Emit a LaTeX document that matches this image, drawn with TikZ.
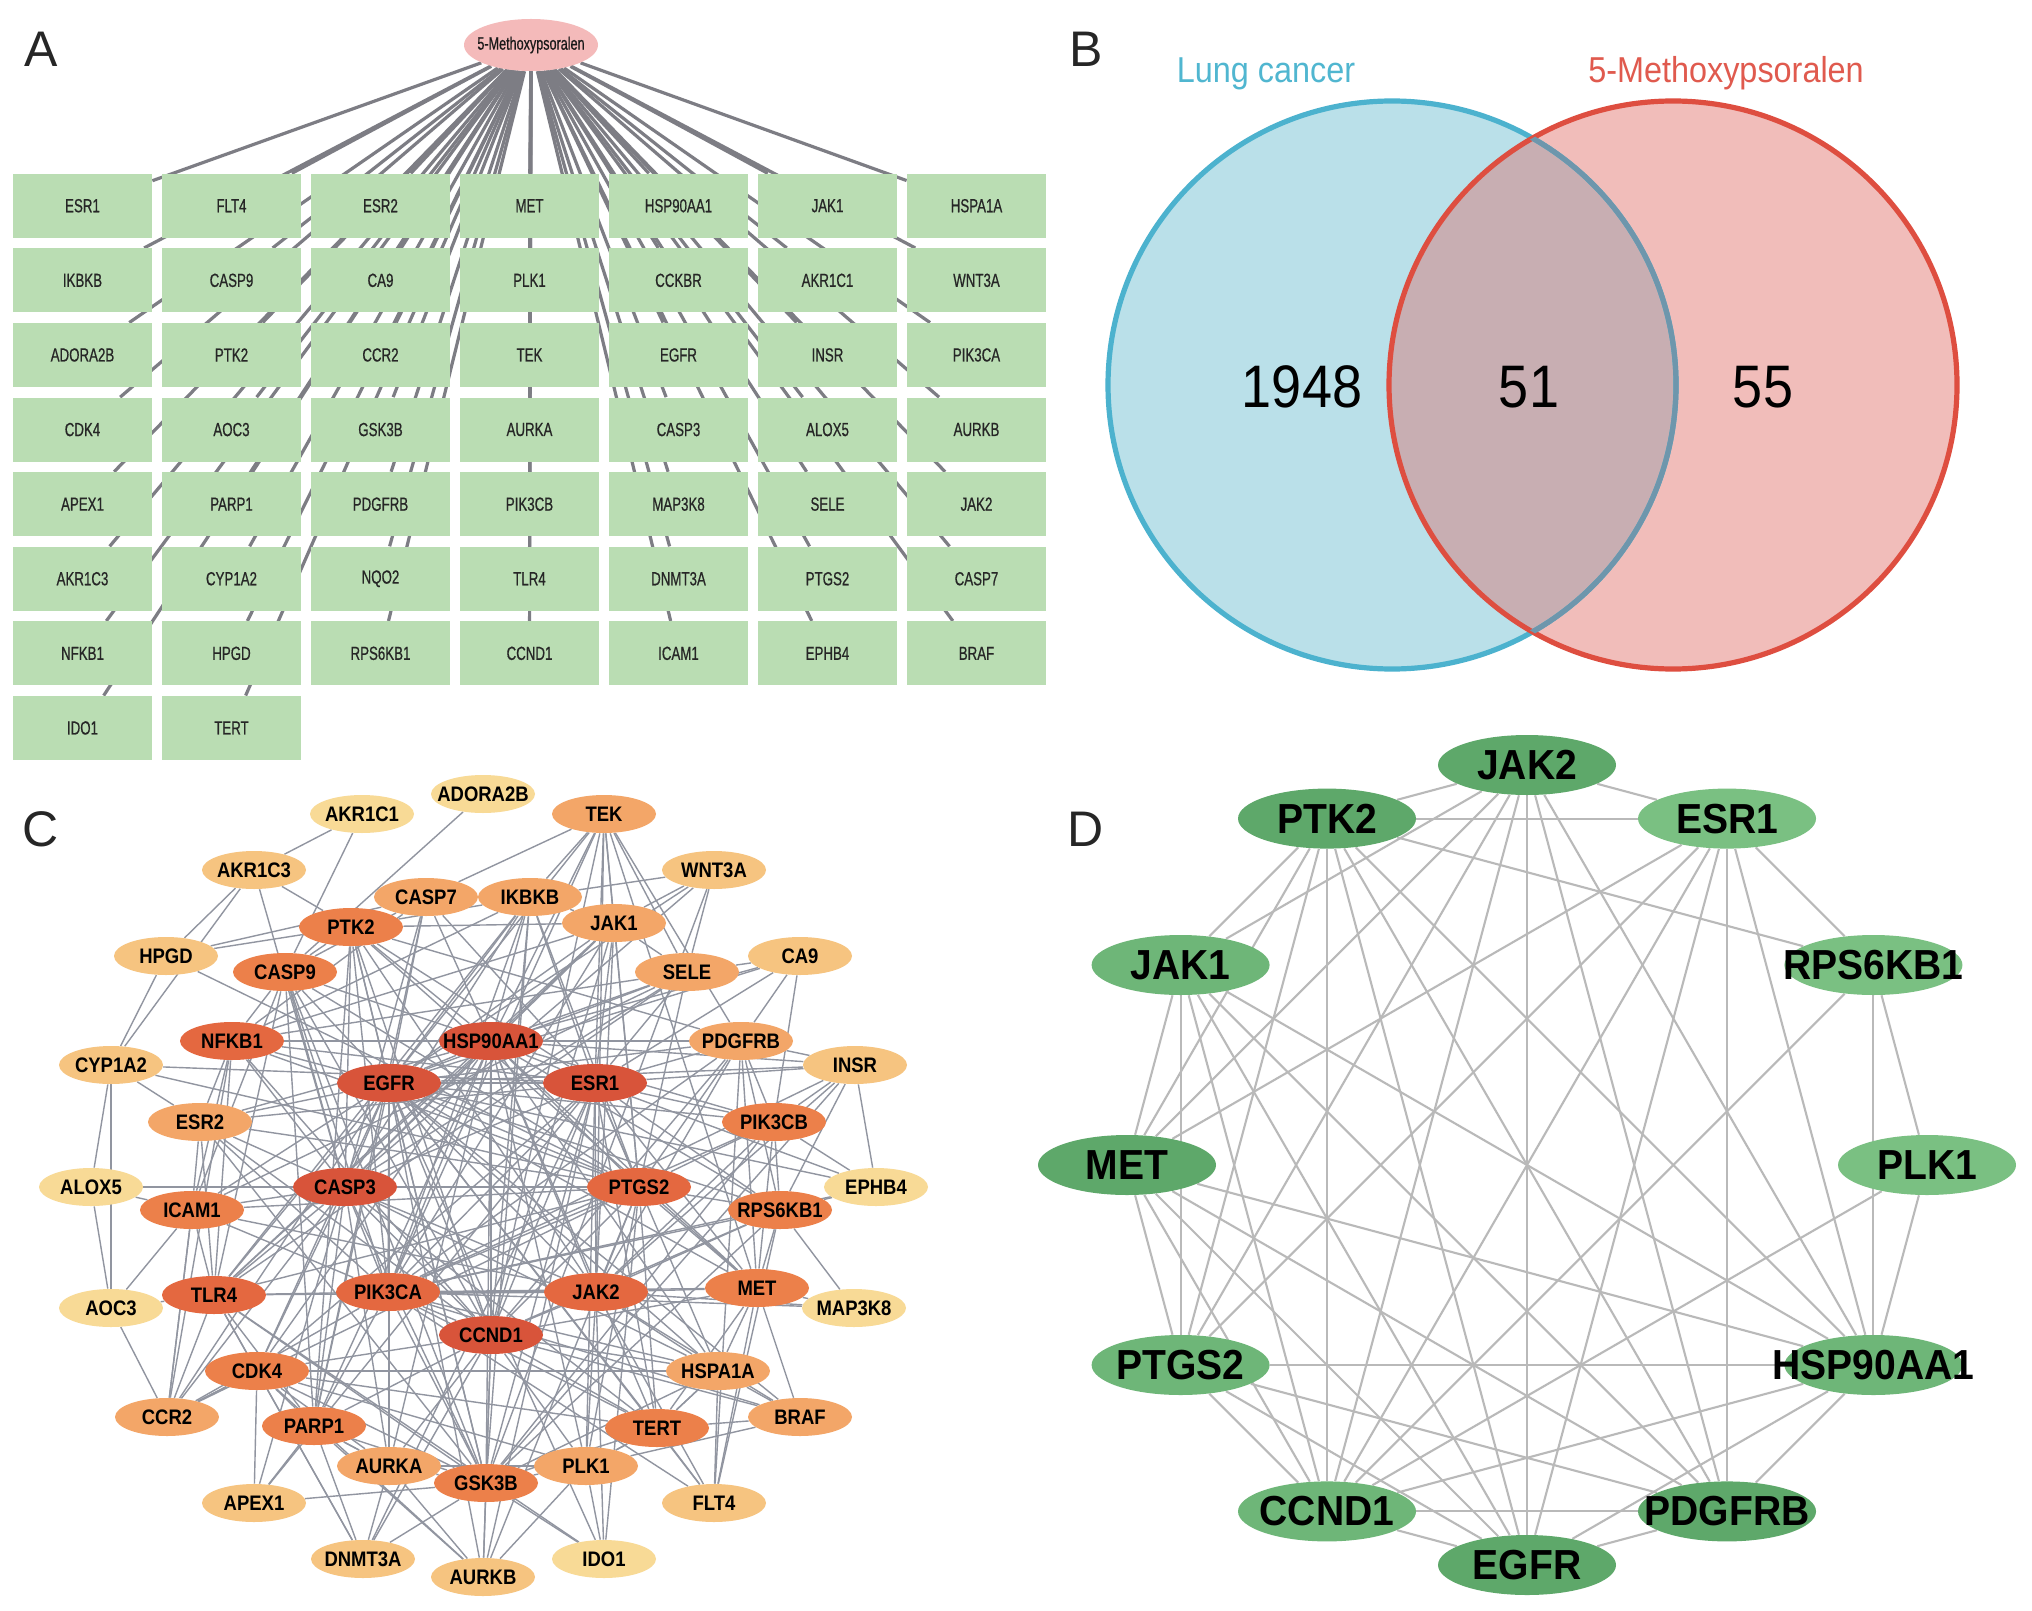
\documentclass[tikz,border=0pt]{standalone}
\usepackage{fontspec}
\setmainfont{Liberation Sans}
\newfontfamily\narrowfont[FakeStretch=0.7,FakeBold=0.6]{Liberation Sans}
\newfontfamily\vfont[FakeStretch=0.9]{Liberation Sans}
\newfontfamily\cfont[FakeStretch=0.88]{Liberation Sans}
\newfontfamily\dfont[FakeStretch=0.93]{Liberation Sans}
\usetikzlibrary{shapes.geometric,backgrounds}
\definecolor{boxgreen}{RGB}{186,221,179}
\definecolor{agray}{RGB}{125,125,132}
\definecolor{srcpink}{RGB}{244,186,186}
\definecolor{vblue}{RGB}{186,224,233}
\definecolor{vpink}{RGB}{241,189,186}
\definecolor{vmid}{RGB}{200,174,178}
\definecolor{vblueline}{RGB}{76,178,206}
\definecolor{vredline}{RGB}{222,78,64}
\definecolor{vmidline}{RGB}{110,150,172}
\definecolor{vbluetext}{RGB}{80,182,208}
\definecolor{vredtext}{RGB}{224,90,78}
\definecolor{cA}{RGB}{216,84,58}
\definecolor{cB}{RGB}{228,104,64}
\definecolor{cC}{RGB}{236,128,74}
\definecolor{cD}{RGB}{243,166,104}
\definecolor{cE}{RGB}{246,196,128}
\definecolor{cF}{RGB}{248,218,150}
\definecolor{cgray}{RGB}{145,149,160}
\definecolor{dA}{RGB}{94,168,106}
\definecolor{dB}{RGB}{110,182,120}
\definecolor{dC}{RGB}{122,192,130}
\definecolor{dgray}{RGB}{185,185,185}
\tikzset{
  abox/.style={rectangle, fill=boxgreen, minimum width=69.5pt, minimum height=32pt, inner sep=0pt,
    font=\narrowfont\fontsize{9.5}{10}\selectfont, text=black!85},
  asrc/.style={ellipse, fill=srcpink, minimum width=67pt, minimum height=26pt, inner sep=0pt,
    font=\narrowfont\fontsize{9}{10}\selectfont, text=black!90},
  aedge/.style={draw=agray, line width=1.6pt},
  cnode/.style={ellipse, minimum width=52pt, minimum height=19pt, inner sep=0pt,
    font=\cfont\bfseries\fontsize{10.5}{11}\selectfont, text=black},
  cedge/.style={draw=cgray, line width=0.7pt},
  dnode/.style={ellipse, minimum width=89pt, minimum height=30pt, inner sep=0pt,
    font=\dfont\bfseries\fontsize{21}{22}\selectfont, text=black},
  dedge/.style={draw=dgray, line width=1.05pt},
  plabel/.style={font=\fontsize{25}{26}\selectfont, text=black!85, inner sep=0pt},
  vnum/.style={font=\vfont\fontsize{30}{31}\selectfont, text=black, inner sep=0pt},
  vtitle/.style={font=\vfont\fontsize{18}{19}\selectfont, inner sep=0pt}
}
\begin{document}
\begin{tikzpicture}[x=0.5pt,y=-0.5pt]
\useasboundingbox (0,0) rectangle (2032,1610);
\begin{scope}[on background layer]
  \fill[white] (0,0) rectangle (2032,1610);
\end{scope}

% ---------------- panel labels
\node[plabel] (labA) at (41,49) {A};
\node[plabel] (labB) at (1086,49) {B};
\node[plabel] (labC) at (41,829) {C};
\node[plabel] (labD) at (1086,829) {D};

% ---------------- panel A
\node[asrc] (a-src) at (531,45) {\makebox[0pt]{5-Methoxypsoralen}};
\foreach \nm [count=\i from 0] in {ESR1,FLT4,ESR2,MET,HSP90AA1,JAK1,HSPA1A,
  IKBKB,CASP9,CA9,PLK1,CCKBR,AKR1C1,WNT3A,
  ADORA2B,PTK2,CCR2,TEK,EGFR,INSR,PIK3CA,
  CDK4,AOC3,GSK3B,AURKA,CASP3,ALOX5,AURKB,
  APEX1,PARP1,PDGFRB,PIK3CB,MAP3K8,SELE,JAK2,
  AKR1C3,CYP1A2,NQO2,TLR4,DNMT3A,PTGS2,CASP7,
  NFKB1,HPGD,RPS6KB1,CCND1,ICAM1,EPHB4,BRAF,
  IDO1,TERT}{
  \pgfmathtruncatemacro\cc{mod(\i,7)}
  \pgfmathtruncatemacro\rr{div(\i,7)}
  \node[abox] (a-\nm) at ({82.5+149*\cc},{205.75+74.6*\rr}) {\nm};
}
\begin{scope}[on background layer]
\foreach \nm in {ESR1,FLT4,ESR2,MET,HSP90AA1,JAK1,HSPA1A,
  IKBKB,CASP9,CA9,PLK1,CCKBR,AKR1C1,WNT3A,
  ADORA2B,PTK2,CCR2,TEK,EGFR,INSR,PIK3CA,
  CDK4,AOC3,GSK3B,AURKA,CASP3,ALOX5,AURKB,
  APEX1,PARP1,PDGFRB,PIK3CB,MAP3K8,SELE,JAK2,
  AKR1C3,CYP1A2,NQO2,TLR4,DNMT3A,PTGS2,CASP7,
  NFKB1,HPGD,RPS6KB1,CCND1,ICAM1,EPHB4,BRAF,
  IDO1,TERT}{
  \draw[aedge] (a-src) -- (a-\nm);
}
\end{scope}

% ---------------- panel B (Venn)
\coordinate (vL) at (1392,385);
\coordinate (vR) at (1673,385);
\fill[vblue] (vL) circle[radius=284];
\fill[vpink] (vR) circle[radius=284];
\begin{scope}
  \clip (vL) circle[radius=284];
  \fill[vmid] (vR) circle[radius=284];
\end{scope}
\draw[vblueline, line width=2.6pt] (vL) circle[radius=284];
\draw[vredline, line width=2.6pt] (vR) circle[radius=284];
\begin{scope}
  \clip (vR) circle[radius=284];
  \draw[vmidline, line width=2.6pt] (vL) circle[radius=284];
\end{scope}
\node[vtitle, text=vbluetext] (vtL) at (1266,74) {Lung cancer};
\node[vtitle, text=vredtext] (vtR) at (1726,73) {5-Methoxypsoralen};
\node[vnum] (n1) at (1302,387) {1948};
\node[vnum] (n2) at (1529,387) {51};
\node[vnum] (n3) at (1763,387) {55};

% ---------------- panel C
\foreach \nm/\px/\py/\col in {
  ADORA2B/483/794/cF, AKR1C1/362/814/cF, TEK/604/814/cD, AKR1C3/254/870/cE,
  WNT3A/714/870/cE, CASP7/426/897/cD, IKBKB/530/897/cD, PTK2/351/927/cC,
  JAK1/614/923/cD, HPGD/166/956/cE, CASP9/285/972/cC, SELE/687/972/cD,
  CA9/800/956/cE, NFKB1/232/1041/cB, HSP90AA1/491/1041/cA, PDGFRB/741/1041/cD,
  CYP1A2/111/1065/cE, INSR/855/1065/cE, EGFR/389/1083/cA, ESR1/595/1083/cA,
  ESR2/200/1122/cD, PIK3CB/774/1122/cC, ALOX5/91/1187/cF, CASP3/345/1187/cA,
  PTGS2/639/1187/cB, EPHB4/876/1187/cF, ICAM1/192/1210/cC, RPS6KB1/780/1210/cC,
  TLR4/214/1295/cB, PIK3CA/388/1292/cB, JAK2/596/1292/cB, MET/757/1288/cC,
  AOC3/111/1308/cF, MAP3K8/854/1308/cF, CCND1/491/1335/cA, CDK4/257/1371/cC,
  HSPA1A/718/1371/cD, CCR2/167/1417/cD, PARP1/314/1426/cC, TERT/657/1428/cC,
  BRAF/800/1417/cD, AURKA/389/1466/cD, PLK1/586/1466/cD, GSK3B/486/1483/cC,
  APEX1/254/1503/cE, FLT4/714/1503/cE, DNMT3A/363/1559/cE, IDO1/604/1559/cF,
  AURKB/483/1577/cE}{
  \node[cnode, fill=\col] (c-\nm) at (\px,\py) {\makebox[0pt]{\nm}};
}
\begin{scope}[on background layer]
\foreach \a/\bs in {
  HSP90AA1/{EGFR,ESR1,CASP3,CCND1,PIK3CA,PTGS2,JAK2,GSK3B,TLR4,NFKB1},
  EGFR/{ESR1,CASP3,CCND1,PIK3CA,PTGS2,JAK2,GSK3B,TLR4,NFKB1},
  ESR1/{CASP3,CCND1,PIK3CA,PTGS2,JAK2,GSK3B,NFKB1},
  CASP3/{CCND1,PIK3CA,PTGS2,JAK2,GSK3B,TLR4,NFKB1},
  CCND1/{PIK3CA,PTGS2,JAK2,GSK3B,NFKB1},
  PIK3CA/{PTGS2,JAK2,GSK3B,TLR4},
  PTGS2/{JAK2,TLR4,NFKB1},
  JAK2/{TLR4},
  GSK3B/{TLR4},
  TLR4/{NFKB1},
  PTK2/{HSP90AA1,EGFR,ESR1,CASP3,CCND1,PIK3CA,JAK2,GSK3B,MET,PDGFRB,IKBKB,JAK1,HPGD,CASP9,PARP1},
  CASP9/{HSP90AA1,EGFR,CASP3,CCND1,PIK3CA,PTGS2,NFKB1,PARP1,GSK3B,TLR4,ICAM1},
  MET/{HSP90AA1,EGFR,ESR1,CCND1,PIK3CA,JAK2,PTGS2,PDGFRB,HSPA1A,TERT,MAP3K8,RPS6KB1,PIK3CB,BRAF,FLT4},
  ICAM1/{EGFR,CASP3,TLR4,NFKB1,PTGS2,ALOX5,AOC3,CCR2,PIK3CA,JAK2,ESR2},
  CDK4/{CCND1,CASP3,EGFR,ESR1,GSK3B,PARP1,TLR4,PLK1,AURKA,APEX1,CCR2,HSP90AA1,TERT},
  PARP1/{CASP3,CCND1,EGFR,HSP90AA1,GSK3B,AURKA,APEX1,DNMT3A,AURKB,TLR4,PIK3CA},
  TERT/{CCND1,HSP90AA1,EGFR,ESR1,GSK3B,PLK1,HSPA1A,BRAF,FLT4,PTGS2,PIK3CA,CASP3},
  RPS6KB1/{EGFR,ESR1,PIK3CA,PTGS2,HSP90AA1,CCND1,GSK3B,MAP3K8,INSR,EPHB4,PIK3CB,JAK2},
  PIK3CB/{EGFR,ESR1,PIK3CA,PTGS2,INSR,PDGFRB,CA9,EPHB4,JAK2,HSP90AA1,GSK3B},
  JAK1/{JAK2,EGFR,HSP90AA1,ESR1,IKBKB,TEK,WNT3A,SELE,PTGS2,CCND1,PIK3CA,CASP3,TLR4,NFKB1},
  IKBKB/{NFKB1,HSP90AA1,EGFR,ESR1,CASP3,CCND1,PIK3CA,TLR4,TEK,WNT3A,CASP7,PTGS2,GSK3B},
  CASP7/{CASP3,CASP9,PARP1,HSP90AA1,EGFR,ESR1,TEK,HPGD,NFKB1},
  TEK/{HSP90AA1,EGFR,ESR1,PIK3CA,JAK2,SELE,PTGS2,CCND1,MET,PDGFRB},
  SELE/{ICAM1,EGFR,TLR4,NFKB1,HSP90AA1,WNT3A,CA9,PTGS2,CASP3,ESR1},
  PDGFRB/{EGFR,PIK3CA,JAK2,ESR1,HSP90AA1,CCND1,INSR,CA9,RPS6KB1,PTGS2},
  ESR2/{ESR1,EGFR,CCND1,CASP3,CYP1A2,HSP90AA1,PTGS2,NFKB1,PIK3CA,TLR4,GSK3B},
  HSPA1A/{HSP90AA1,CASP3,EGFR,ESR1,JAK2,PIK3CA,TERT,BRAF,FLT4,CCND1,GSK3B,CDK4},
  AURKA/{CCND1,GSK3B,PLK1,AURKB,DNMT3A,EGFR,HSP90AA1,PARP1,CASP3},
  PLK1/{CCND1,GSK3B,AURKB,IDO1,HSP90AA1,ESR1,JAK2,PTGS2,TERT},
  CCR2/{TLR4,NFKB1,CASP3,PTGS2,EGFR,ICAM1,CDK4,PIK3CA},
  ADORA2B/{CASP9},
  AKR1C1/{AKR1C3,CASP9},
  AKR1C3/{HPGD,CYP1A2,PTK2,CASP3},
  WNT3A/{GSK3B,EGFR,CASP3},
  HPGD/{PTGS2,CYP1A2},
  CA9/{HSP90AA1,ESR1,EGFR},
  CYP1A2/{ESR1,PTGS2,ALOX5,AOC3},
  INSR/{EGFR,ESR1,PIK3CA,HSP90AA1,GSK3B,EPHB4,JAK2},
  ALOX5/{CASP3,PTGS2,AOC3},
  EPHB4/{EGFR,ESR1,PIK3CA},
  AOC3/{TLR4,CCR2},
  MAP3K8/{PIK3CA,JAK2},
  BRAF/{PIK3CA,EGFR,CCND1,JAK2,PLK1},
  APEX1/{CASP3,GSK3B,ESR1},
  FLT4/{PDGFRB,EGFR,PIK3CA,JAK2,RPS6KB1},
  DNMT3A/{CCND1,GSK3B,ESR1,CDK4,TLR4},
  IDO1/{GSK3B,EGFR,PTGS2,JAK2,TLR4},
  AURKB/{GSK3B,CCND1,CDK4,PTGS2,ESR1,EGFR}}{
  \foreach \b in \bs {\draw[cedge] (c-\a) -- (c-\b);}
}
\end{scope}

% ---------------- panel D
\foreach \nm/\ang/\col in {JAK2/90/dA, PTK2/120/dA, JAK1/150/dB, MET/180/dA,
  PTGS2/210/dB, CCND1/240/dB, EGFR/270/dA, PDGFRB/300/dA, HSP90AA1/330/dB,
  PLK1/0/dC, RPS6KB1/30/dC, ESR1/60/dC}{
  \node[dnode, fill=\col] (d-\nm) at ({1527+400*cos(\ang)},{1165-400*sin(\ang)}) {\makebox[0pt]{\nm}};
}
\begin{scope}[on background layer]
\foreach \a/\bs in {
  JAK2/{PTK2,ESR1,JAK1,MET,PTGS2,CCND1,EGFR,PDGFRB,HSP90AA1},
  PTK2/{ESR1,RPS6KB1,JAK1,MET,CCND1,EGFR,PDGFRB,HSP90AA1,PTGS2},
  ESR1/{MET,PTGS2,CCND1,EGFR,PDGFRB,HSP90AA1,RPS6KB1},
  JAK1/{MET,PTGS2,CCND1,EGFR,PDGFRB,HSP90AA1},
  MET/{PTGS2,CCND1,EGFR,PDGFRB,HSP90AA1},
  PTGS2/{CCND1,EGFR,PDGFRB,HSP90AA1},
  CCND1/{EGFR,PDGFRB,HSP90AA1,PLK1,RPS6KB1},
  EGFR/{PDGFRB,HSP90AA1},
  PDGFRB/{HSP90AA1},
  HSP90AA1/{PLK1,RPS6KB1},
  RPS6KB1/{PLK1}}{
  \foreach \b in \bs {\draw[dedge] (d-\a) -- (d-\b);}
}
\end{scope}
\end{tikzpicture}
\end{document}
